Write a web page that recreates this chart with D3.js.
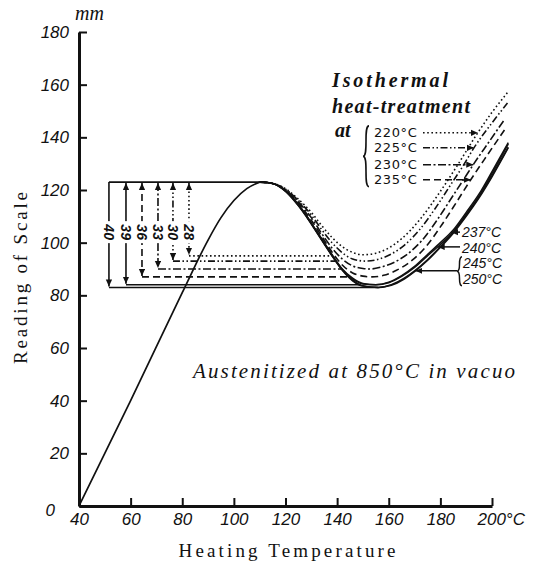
<!DOCTYPE html>
<html>
<head>
<meta charset="utf-8">
<script src="https://cdn.jsdelivr.net/npm/d3@7"></script>
<style>
  body { margin: 0; background: #fff; }
</style>
</head>
<body>
<script>
// Axis ticks
const xTicks = [40, 60, 80, 100, 120, 140, 160, 180, 200];
const yTicks = [0, 20, 40, 60, 80, 100, 120, 140, 160, 180];

// Common heating branch (up to the peak)
const heatT = [40, 60, 80, 90, 95, 100, 105, 110];
const heatV = [0, 40, 81, 101, 109.5, 116, 120.5, 123];

// Isothermal treatment series (from the peak onwards)
const seriesNames = ["220°C", "225°C", "230°C", "235°C", "237°C", "240°C", "245°C", "250°C"];
const t220 = [110, 115, 120, 125, 130, 134, 138, 142, 146, 150, 155, 160, 165, 172, 180, 187, 194, 200, 206];
const v220 = [123, 122.5, 120.5, 116.5, 111.5, 106.5, 102, 98.5, 96.3, 95.4, 96, 98, 101.5, 108.7, 119.5, 130, 141, 149.5, 157];
const t225 = [110, 115, 120, 125, 130, 134, 138, 142, 146, 151, 156, 161, 166, 172, 178, 184, 189, 193, 200, 206];
const v225 = [123, 122.5, 120.3, 116, 110.5, 105, 100, 96.2, 93.8, 93, 93.7, 95.7, 99, 105, 113, 122, 129.5, 136, 145.5, 153];
const t230 = [110, 115, 120, 125, 130, 134, 138, 142, 146, 150, 153, 157, 162, 167, 173, 179, 185, 190, 193, 199, 205];
const v230 = [123, 122.5, 120, 115.5, 109.5, 103.5, 98, 93.8, 91.2, 90.2, 90, 90.7, 92.5, 95.5, 101, 109, 118, 125.5, 130, 138.5, 147];
const t235 = [110, 115, 120, 125, 130, 134, 138, 142, 146, 150, 153.5, 158, 163, 168, 174, 180, 186, 191.5, 198, 205];
const v235 = [123, 122.5, 119.8, 115, 108.5, 102.5, 96.5, 91.5, 88.5, 87.3, 87, 87.6, 89.5, 92.5, 98, 106, 115, 123.5, 133, 143];
const t237 = [110, 115, 120, 125, 128, 131, 134, 138, 142, 146, 150, 155, 160, 165, 170, 175, 180, 184.7, 190, 195, 200, 206.3];
const v237 = [123, 122.5, 119.8, 114.5, 110.5, 106, 101.5, 95.5, 90, 86.5, 84.5, 84, 85, 87.5, 91, 95.5, 100, 104.5, 111.5, 118.5, 127, 138];
const t240 = [110, 115, 120, 125, 128, 131, 134, 138, 142, 146, 150, 155, 160, 165, 170, 175, 180, 184.7, 190, 195, 200, 206.3];
const v240 = [123, 122.5, 119.7, 114.3, 110.3, 105.8, 101.3, 95.3, 89.8, 86.2, 84.3, 84, 84.8, 87.2, 90.6, 95, 99.3, 103.8, 110.8, 117.8, 126.3, 137.5];
const t245 = [110, 115, 120, 125, 128, 131, 134, 138, 142, 146, 150, 156, 161, 166, 170, 175, 179.3, 185, 190, 195, 200, 206.3];
const v245 = [123, 122.5, 119.6, 114.2, 110.2, 105.7, 101.2, 95.2, 89.7, 85.8, 83.6, 83, 84, 86.5, 89.3, 93.5, 97.8, 104, 110.5, 117.5, 125.5, 136.3];
const t250 = [110, 115, 120, 125, 128, 131, 134, 138, 142, 146, 150, 156, 161, 166, 170, 175, 179.3, 185, 190, 195, 200, 206.3];
const v250 = [123, 122.5, 119.5, 114, 110, 105.5, 101, 95, 89.5, 85.5, 83.5, 83, 83.8, 86.2, 89, 93.2, 97.5, 103.6, 110, 117, 125, 136];
const seriesT = [t220, t225, t230, t235, t237, t240, t245, t250];
const seriesV = [v220, v225, v230, v235, v237, v240, v245, v250];
const seriesDash = ["1.6,2.6", "7,2.5,1.5,2.5,1.5,2.5", "8,2.5,2,2.5", "7,4", null, null, null, null];

// Depth arrows: depth (mm), temperature where drawn, matching series
const peakValue = 123;
const arrowDepth = [40, 39, 36, 33, 30, 28];
const arrowT = [51.6, 58.2, 64.4, 70.6, 76.4, 82.6];
const arrowSeries = [7, 4, 3, 2, 1, 0];

// Labels pointing to the rising branches
const legendNames = ["220°C", "225°C", "230°C", "235°C"];
const legendValue = [141.7, 136, 129.6, 123.9];
const rightNames = ["237°C", "240°C"];
const rightValue = [104, 98.4];
const bracketNames = ["245°C", "250°C"];
const bracketValue = 89.3;

const W = 533, H = 563;
const ink = "#111";

const svg = d3.select("body").append("svg")
  .attr("width", W)
  .attr("height", H)
  .style("background", "#fff");

const x = d3.scaleLinear().domain([40, 200]).range([79, 492]);
const y = d3.scaleLinear().domain([0, 180]).range([506, 32]);

const defs = svg.append("defs");
defs.append("marker")
  .attr("id", "ah")
  .attr("viewBox", "0 0 10 10")
  .attr("refX", 10).attr("refY", 5)
  .attr("markerWidth", 7).attr("markerHeight", 7)
  .attr("markerUnits", "userSpaceOnUse")
  .attr("orient", "auto-start-reverse")
  .append("path").attr("d", "M0,0.5L10,5L0,9.5Z").attr("fill", ink);

// helpers: crossing temperature on descending / rising branch (linear between read points)
function crossing(T, V, v, rising) {
  const iMin = V.indexOf(d3.min(V));
  if (!rising) {
    for (let i = 0; i < iMin; i++) {
      if (V[i] >= v && V[i + 1] <= v) return T[i] + (T[i + 1] - T[i]) * (V[i] - v) / (V[i] - V[i + 1]);
    }
    return T[iMin];
  }
  for (let i = iMin; i < V.length - 1; i++) {
    if (V[i] <= v && V[i + 1] >= v) return T[i] + (T[i + 1] - T[i]) * (v - V[i]) / (V[i + 1] - V[i]);
  }
  return T[T.length - 1];
}

const line = d3.line()
  .x(d => x(d[0]))
  .y(d => y(d[1]))
  .curve(d3.curveMonotoneX);

// Axes
const xAxis = d3.axisBottom(x).tickValues(xTicks).tickSizeInner(-8).tickSizeOuter(0).tickPadding(7)
  .tickFormat(d => d);
const yAxis = d3.axisLeft(y).tickValues(yTicks).tickSizeInner(-8).tickSizeOuter(0).tickPadding(10);

const gx = svg.append("g").attr("transform", `translate(0,${y(0)})`).call(xAxis);
const gy = svg.append("g").attr("transform", `translate(${x(40)},0)`).call(yAxis);

[gx, gy].forEach(g => {
  g.select(".domain").attr("stroke", ink).attr("stroke-width", 3);
  g.selectAll(".tick line").attr("stroke", ink).attr("stroke-width", 2);
  g.selectAll(".tick text")
    .attr("fill", ink)
    .style("font-family", "'Liberation Sans', Arial, sans-serif")
    .style("font-style", "italic")
    .style("font-size", "17px");
});
gy.selectAll(".tick text").filter(d => d === 0).attr("dx", -14).attr("dy", "0.55em");
gx.selectAll(".tick text").filter(d => d === 200)
  .attr("text-anchor", "start").attr("x", -15)
  .text(d => d + "°C");

svg.append("text")
  .attr("x", 75).attr("y", 20)
  .attr("fill", ink)
  .style("font-family", "'Liberation Serif', serif")
  .style("font-style", "italic")
  .style("font-size", "20px")
  .text("mm");

svg.append("text")
  .attr("x", 287).attr("y", 557)
  .attr("text-anchor", "middle")
  .attr("textLength", 217).attr("lengthAdjust", "spacing")
  .attr("fill", ink)
  .style("font-family", "'Liberation Serif', serif")
  .style("font-size", "19px")
  .text("Heating Temperature");

svg.append("text")
  .attr("transform", "translate(27,278) rotate(-90)")
  .attr("text-anchor", "middle")
  .attr("textLength", 172).attr("lengthAdjust", "spacing")
  .attr("fill", ink)
  .style("font-family", "'Liberation Serif', serif")
  .style("font-size", "19px")
  .text("Reading of Scale");

// Depth arrows and level lines
const levels = svg.append("g").attr("fill", "none").attr("stroke", ink).attr("stroke-width", 1.6);

levels.append("line")
  .attr("x1", x(arrowT[0])).attr("x2", x(110))
  .attr("y1", y(peakValue)).attr("y2", y(peakValue));

arrowDepth.forEach((dep, i) => {
  const lev = peakValue - dep;
  const dash = seriesDash[arrowSeries[i]];
  const ax = x(arrowT[i]);
  levels.append("line")
    .attr("x1", ax).attr("x2", ax)
    .attr("y1", y(peakValue) + (i === 0 ? 0 : 1)).attr("y2", y(lev) - 1)
    .attr("stroke-dasharray", dash)
    .attr("marker-start", i === 0 ? null : "url(#ah)")
    .attr("marker-end", "url(#ah)");
  const tEnd = crossing(t250, v250, lev, false);
  levels.append("line")
    .attr("x1", ax).attr("x2", x(tEnd))
    .attr("y1", y(lev)).attr("y2", y(lev))
    .attr("stroke-dasharray", dash);
});

// Curves
svg.append("path")
  .datum(heatT.map((t, i) => [t, heatV[i]]))
  .attr("d", line)
  .attr("fill", "none").attr("stroke", ink).attr("stroke-width", 1.7);

seriesT.forEach((T, k) => {
  svg.append("path")
    .datum(T.map((t, i) => [t, seriesV[k][i]]))
    .attr("d", line)
    .attr("fill", "none")
    .attr("stroke", ink)
    .attr("stroke-width", seriesDash[k] ? 1.6 : 1.5)
    .attr("stroke-dasharray", seriesDash[k]);
});

// Depth numbers (rotated)
const numG = svg.append("g");
arrowDepth.forEach((dep, i) => {
  const cx = x(arrowT[i]), cy = y(104);
  numG.append("rect")
    .attr("x", cx - 7).attr("y", cy - 11)
    .attr("width", 14).attr("height", 22)
    .attr("fill", "#fff");
  numG.append("text")
    .attr("transform", `translate(${cx},${cy}) rotate(90)`)
    .attr("text-anchor", "middle")
    .attr("dy", "0.35em")
    .attr("fill", ink)
    .style("font-family", "'Liberation Sans', Arial, sans-serif")
    .style("font-style", "italic")
    .style("font-weight", "bold")
    .style("font-size", "14px")
    .text(dep);
});

// Legend: isothermal heat-treatment
const hand = "'Liberation Serif', serif";
svg.append("text")
  .attr("x", 332).attr("y", 87)
  .attr("textLength", 116).attr("lengthAdjust", "spacing")
  .attr("fill", ink)
  .style("font-family", hand).style("font-style", "italic").style("font-weight", "bold")
  .style("font-size", "20px")
  .text("Isothermal");
svg.append("text")
  .attr("x", 332).attr("y", 113)
  .attr("textLength", 138).attr("lengthAdjust", "spacing")
  .attr("fill", ink)
  .style("font-family", hand).style("font-style", "italic").style("font-weight", "bold")
  .style("font-size", "20px")
  .text("heat-treatment");
svg.append("text")
  .attr("x", 335).attr("y", 137)
  .attr("fill", ink)
  .style("font-family", hand).style("font-style", "italic").style("font-weight", "bold")
  .style("font-size", "20px")
  .text("at");

function brace(bx, y0, y1, w) {
  const ym = (y0 + y1) / 2;
  return `M${bx + w},${y0} C${bx},${y0} ${bx + w},${ym} ${bx},${ym} C${bx + w},${ym} ${bx},${y1} ${bx + w},${y1}`;
}

svg.append("path")
  .attr("d", brace(363, y(legendValue[0]) - 7, y(legendValue[3]) + 7, 6))
  .attr("fill", "none").attr("stroke", ink).attr("stroke-width", 1.6);

legendNames.forEach((name, i) => {
  const yy = y(legendValue[i]);
  svg.append("text")
    .attr("x", 374).attr("y", yy)
    .attr("dy", "0.35em")
    .attr("fill", ink)
    .style("font-family", "'DejaVu Sans', sans-serif")
    .style("font-size", "13px")
    .style("letter-spacing", "0.6px")
    .text(name);
  svg.append("line")
    .attr("x1", 423).attr("x2", x(crossing(seriesT[i], seriesV[i], legendValue[i], true)))
    .attr("y1", yy).attr("y2", yy)
    .attr("stroke", ink).attr("stroke-width", 1.5)
    .attr("stroke-dasharray", seriesDash[i])
    .attr("marker-end", "url(#ah)");
});

// Right labels for solid curves
rightNames.forEach((name, i) => {
  const yy = y(rightValue[i]);
  svg.append("text")
    .attr("x", 462).attr("y", yy + (i === 1 ? 1 : 0))
    .attr("dy", "0.35em")
    .attr("fill", ink)
    .style("font-family", "'Liberation Sans', Arial, sans-serif")
    .style("font-style", "italic")
    .style("font-size", "14px")
    .text(name);
  svg.append("line")
    .attr("x1", 460).attr("x2", x(crossing(seriesT[4 + i], seriesV[4 + i], rightValue[i], true)))
    .attr("y1", yy).attr("y2", yy)
    .attr("stroke", ink).attr("stroke-width", 1.5)
    .attr("marker-end", "url(#ah)");
});

const by = y(bracketValue);
svg.append("path")
  .attr("d", brace(457, by - 14, by + 15, 5))
  .attr("fill", "none").attr("stroke", ink).attr("stroke-width", 1.5);
svg.append("line")
  .attr("x1", 457).attr("x2", x(crossing(t250, v250, bracketValue, true)))
  .attr("y1", by).attr("y2", by)
  .attr("stroke", ink).attr("stroke-width", 1.5)
  .attr("marker-end", "url(#ah)");
bracketNames.forEach((name, i) => {
  svg.append("text")
    .attr("x", 463).attr("y", by + (i === 0 ? -8 : 8))
    .attr("dy", "0.35em")
    .attr("fill", ink)
    .style("font-family", "'Liberation Sans', Arial, sans-serif")
    .style("font-style", "italic")
    .style("font-size", "14px")
    .text(name);
});

// Annotation
svg.append("text")
  .attr("x", 193).attr("y", 378)
  .attr("textLength", 322).attr("lengthAdjust", "spacing")
  .attr("fill", ink)
  .style("font-family", hand).style("font-style", "italic")
  .style("font-size", "21px")
  .text("Austenitized at 850°C in vacuo");
</script>
</body>
</html>
